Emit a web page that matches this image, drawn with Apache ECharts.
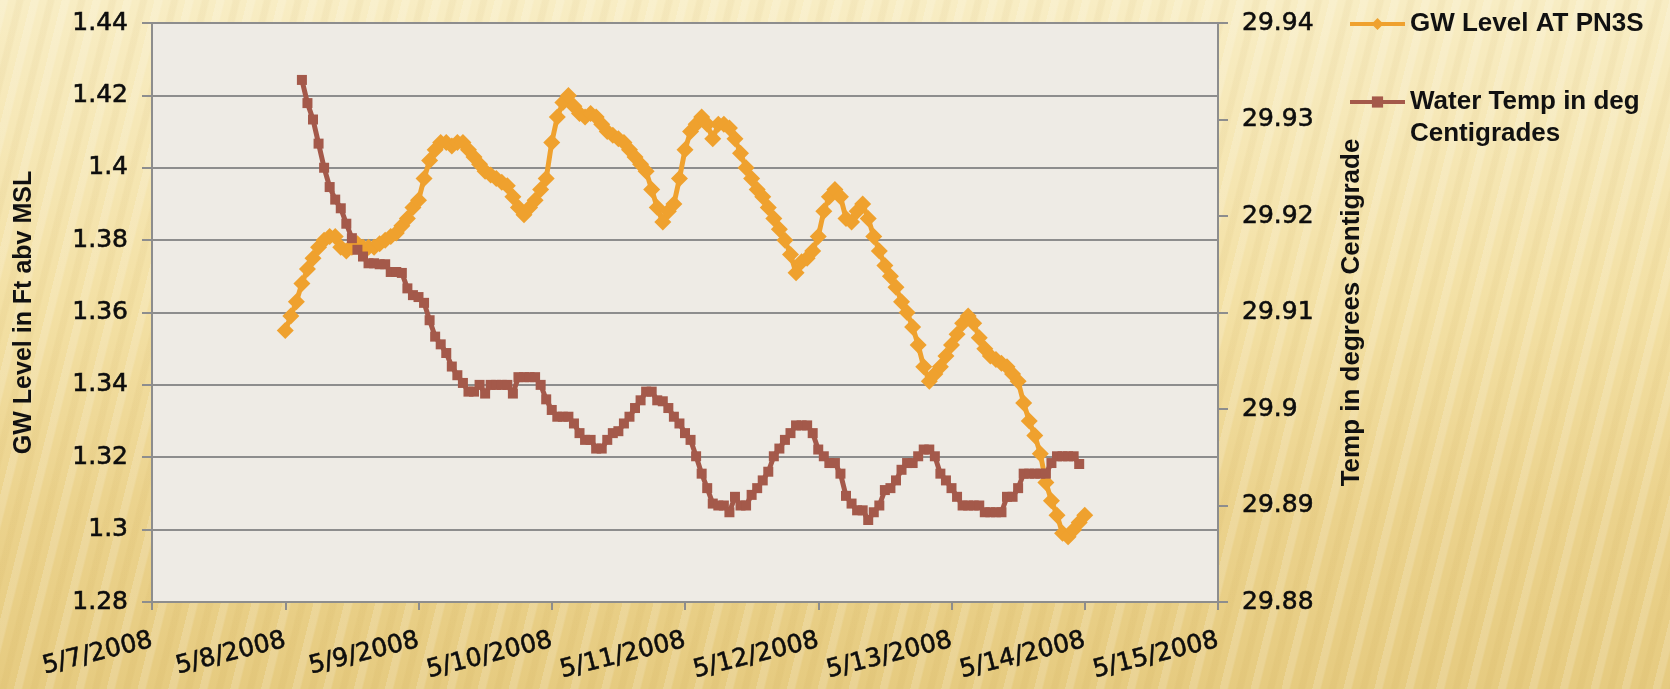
<!DOCTYPE html>
<html>
<head>
<meta charset="utf-8">
<title>GW Level and Water Temperature at PN3S</title>
<script src="https://cdn.jsdelivr.net/npm/echarts@6.0.0/dist/echarts.min.js"></script>
<style>
  html, body { margin: 0; padding: 0; }
  body {
    width: 1670px; height: 689px; overflow: hidden;
    background:
      repeating-linear-gradient(104deg,
        rgba(255,255,255,0.16) 0px, rgba(255,255,255,0.16) 7px,
        rgba(255,255,255,0) 9px, rgba(255,255,255,0) 15px,
        rgba(170,125,30,0.05) 17px, rgba(170,125,30,0.05) 22px,
        rgba(255,255,255,0) 24px, rgba(255,255,255,0) 30px),
      linear-gradient(to bottom, #f8edc4 0%, #f3e0a4 45%, #ebd28c 75%, #e6cb80 100%);
  }
  #chart { width: 1670px; height: 689px; }
</style>
</head>
<body>
<div id="chart"></div>
<script>
// Day tick labels along the time axis (one per day, 5/7 .. 5/15)
const dateLabels = ['5/7/2008', '5/8/2008', '5/9/2008', '5/10/2008', '5/11/2008',
                    '5/12/2008', '5/13/2008', '5/14/2008', '5/15/2008'];

// Hourly groundwater level (ft above MSL), from 5/8/2008 00:00
const gwStartHour = 24;
const gwLevel = [
  1.355, 1.359, 1.363, 1.368, 1.372, 1.375, 1.378, 1.380, 1.381, 1.381,
  1.378, 1.377, 1.378, 1.379, 1.378, 1.378, 1.378, 1.379, 1.380, 1.381,
  1.382, 1.384, 1.386, 1.389, 1.391, 1.397, 1.402, 1.405, 1.407, 1.407,
  1.406, 1.407, 1.407, 1.405, 1.403, 1.401, 1.399, 1.398, 1.397, 1.396,
  1.395, 1.392, 1.389, 1.387, 1.389, 1.391, 1.394, 1.397, 1.407, 1.414,
  1.418, 1.420, 1.417, 1.415, 1.414, 1.415, 1.414, 1.412, 1.410, 1.409,
  1.408, 1.407, 1.405, 1.403, 1.401, 1.399, 1.394, 1.389, 1.385, 1.388,
  1.390, 1.397, 1.405, 1.410, 1.412, 1.414, 1.412, 1.408, 1.412, 1.412,
  1.411, 1.408, 1.404, 1.400, 1.397, 1.394, 1.392, 1.389, 1.386, 1.383,
  1.380, 1.376, 1.371, 1.374, 1.375, 1.377, 1.381, 1.388, 1.392, 1.394,
  1.392, 1.386, 1.385, 1.388, 1.390, 1.386, 1.381, 1.377, 1.373, 1.370,
  1.367, 1.363, 1.360, 1.356, 1.351, 1.345, 1.341, 1.343, 1.345, 1.348,
  1.351, 1.354, 1.357, 1.359, 1.357, 1.353, 1.350, 1.348, 1.347, 1.346,
  1.345, 1.343, 1.341, 1.335, 1.330, 1.326, 1.321, 1.313, 1.308, 1.304,
  1.299, 1.298, 1.300, 1.302, 1.304
];

// Hourly water temperature (deg C), from 5/8/2008 03:00
const tempStartHour = 27;
const waterTemp = [
  29.9341, 29.9317, 29.9300, 29.9275, 29.9250, 29.9230, 29.9217, 29.9208, 29.9192, 29.9177,
  29.9165, 29.9158, 29.9151, 29.9151, 29.9150, 29.9150, 29.9142, 29.9142, 29.9141, 29.9125,
  29.9118, 29.9116, 29.9110, 29.9092, 29.9075, 29.9067, 29.9058, 29.9044, 29.9035, 29.9027,
  29.9018, 29.9018, 29.9025, 29.9016, 29.9025, 29.9025, 29.9025, 29.9025, 29.9016, 29.9033,
  29.9033, 29.9033, 29.9033, 29.9025, 29.9010, 29.8999, 29.8992, 29.8992, 29.8992, 29.8985,
  29.8975, 29.8968, 29.8968, 29.8959, 29.8959, 29.8968, 29.8975, 29.8977, 29.8985, 29.8992,
  29.9001, 29.9009, 29.9018, 29.9018, 29.9009, 29.9008, 29.9001, 29.8992, 29.8985, 29.8975,
  29.8968, 29.8951, 29.8933, 29.8918, 29.8902, 29.8900, 29.8900, 29.8893, 29.8909, 29.8900,
  29.8900, 29.8911, 29.8918, 29.8926, 29.8935, 29.8951, 29.8959, 29.8968, 29.8975, 29.8983,
  29.8983, 29.8983, 29.8975, 29.8958, 29.8951, 29.8944, 29.8944, 29.8933, 29.8910, 29.8902,
  29.8895, 29.8895, 29.8885, 29.8893, 29.8900, 29.8916, 29.8918, 29.8926, 29.8937, 29.8944,
  29.8944, 29.8951, 29.8958, 29.8958, 29.8951, 29.8933, 29.8926, 29.8918, 29.8909, 29.8900,
  29.8900, 29.8900, 29.8900, 29.8893, 29.8893, 29.8893, 29.8893, 29.8909, 29.8909, 29.8918,
  29.8933, 29.8933, 29.8933, 29.8933, 29.8933, 29.8944, 29.8951, 29.8951, 29.8951, 29.8951,
  29.8943
];

const gwName = 'GW Level AT PN3S';
const tempName = 'Water Temp in deg Centigrades';

// x values are hours since 5/7/2008 00:00
const gwData = gwLevel.map((v, i) => [gwStartHour + i, v]);
const tempData = waterTemp.map((v, i) => [tempStartHour + i, v]);

const gridColor = '#8d8d8d';
const inkColor = '#0d0d0d';
// slightly heavier tick text, stroked in its own colour
const tickFont = { fontFamily: 'DejaVu Sans', fontSize: 25, color: inkColor,
                   textBorderColor: inkColor, textBorderWidth: 0.6 };
const nameFont = { fontFamily: 'Liberation Sans', fontWeight: 'bold', fontSize: 25, color: '#111111' };
const legendText = { fontFamily: 'Liberation Sans', fontWeight: 'bold', fontSize: 26, color: '#111111' };

const chart = echarts.init(document.getElementById('chart'), null, { renderer: 'canvas' });
chart.setOption({
  animation: false,
  backgroundColor: 'transparent',
  grid: {
    left: 152, top: 23, width: 1066, height: 579,
    show: true, backgroundColor: '#eeebe5', borderWidth: 0
  },
  legend: [
    {
      data: [gwName], left: 1348, top: 9, padding: 0,
      itemWidth: 55, itemHeight: 15,
      lineStyle: { width: 4 },
      textStyle: Object.assign({ lineHeight: 30 }, legendText)
    },
    {
      data: [tempName], left: 1348, top: 54, padding: 0,
      itemWidth: 55, itemHeight: 14,
      lineStyle: { width: 4 },
      formatter: () => '\nWater Temp in deg\nCentigrades',
      textStyle: Object.assign({ lineHeight: 32 }, legendText)
    }
  ],
  xAxis: {
    type: 'value', min: 0, max: 192, interval: 24,
    axisLine: { show: true, onZero: false, lineStyle: { color: gridColor, width: 2 } },
    axisTick: { show: true, length: 8, lineStyle: { color: gridColor, width: 2 } },
    splitLine: { show: false },
    axisLabel: Object.assign({
      rotate: 14, margin: 38,
      formatter: v => dateLabels[Math.round(v / 24)]
    }, tickFont)
  },
  yAxis: [
    {
      type: 'value', position: 'left', min: 1.28, max: 1.44, interval: 0.02,
      axisLine: { show: true, lineStyle: { color: gridColor, width: 2 } },
      axisTick: { show: true, length: 10, lineStyle: { color: gridColor, width: 2 } },
      splitLine: { show: true, lineStyle: { color: gridColor, width: 2 } },
      axisLabel: Object.assign({ margin: 24 }, tickFont),
      name: 'GW Level in Ft abv MSL', nameLocation: 'middle', nameRotate: 90, nameGap: 115,
      nameTextStyle: nameFont
    },
    {
      type: 'value', position: 'right', min: 29.88, max: 29.94, interval: 0.01,
      axisLine: { show: true, lineStyle: { color: gridColor, width: 2 } },
      axisTick: { show: true, length: 10, lineStyle: { color: gridColor, width: 2 } },
      splitLine: { show: false },
      axisLabel: Object.assign({ margin: 24 }, tickFont),
      name: 'Temp in degrees Centigrade', nameLocation: 'middle', nameRotate: 90, nameGap: 121,
      nameTextStyle: Object.assign({}, nameFont, { fontSize: 26 })
    }
  ],
  series: [
    {
      name: gwName, type: 'line', yAxisIndex: 0, data: gwData,
      symbol: 'diamond', symbolSize: 17, showSymbol: true,
      color: '#efa12e',
      lineStyle: { color: '#efa12e', width: 5 },
      itemStyle: { color: '#efa12e' }
    },
    {
      name: tempName, type: 'line', yAxisIndex: 1, data: tempData,
      symbol: 'rect', symbolSize: 10, showSymbol: true,
      color: '#a4594a',
      lineStyle: { color: '#a4594a', width: 5 },
      itemStyle: { color: '#a4594a' }
    }
  ]
});
</script>
</body>
</html>
